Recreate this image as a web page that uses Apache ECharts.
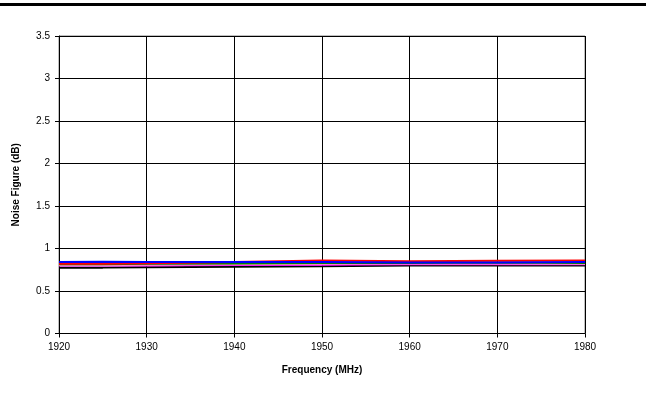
<!DOCTYPE html>
<html><head><meta charset="utf-8">
<script src="https://cdn.jsdelivr.net/npm/echarts@6/dist/echarts.min.js"></script>
<style>html,body{margin:0;padding:0;background:#fff}#c{width:646px;height:405px}</style>
</head><body><div id="c"></div>
<script>
const freqs = [1920, 1925, 1930, 1940, 1950, 1960, 1970, 1980];
const blueNF    = [0.840, 0.845, 0.840, 0.840, 0.840, 0.835, 0.835, 0.840];
const redNF     = [0.820, 0.820, 0.825, 0.840, 0.860, 0.850, 0.855, 0.860];
const greenNF   = [0.815, 0.815, 0.820, 0.825, 0.830, 0.830, 0.835, 0.830];
const pinkNF    = [0.805, 0.805, 0.810, 0.815, 0.820, 0.825, 0.825, 0.820];
const magentaNF = [0.800, 0.800, 0.800, 0.805, 0.810, 0.815, 0.815, 0.815];
const blackNF   = [0.775, 0.775, 0.780, 0.785, 0.790, 0.800, 0.800, 0.800];
const xTicks = [1920, 1930, 1940, 1950, 1960, 1970, 1980];
const yTicks = [0, 0.5, 1, 1.5, 2, 2.5, 3, 3.5];

const font = 'Liberation Sans, Arial, sans-serif';
function ser(vals, color){
  return {type:'line', data: freqs.map((f,i)=>[f, vals[i]]), showSymbol:false,
    lineStyle:{color:color, width:2}, itemStyle:{color:color}, animation:false};
}
const chart = echarts.init(document.getElementById('c'), null, {renderer:'canvas'});
chart.setOption({
  animation:false,
  grid:{left:59, right:61, top:36, bottom:71.5, show:true, borderColor:'#808080', borderWidth:1},
  graphic:[{type:'rect', shape:{x:0, y:3, width:646, height:3}, style:{fill:'#000'}}],
  xAxis:{type:'value', min:1920, max:1980, interval:10,
    name:'Frequency (MHz)', nameLocation:'middle', nameGap:32,
    nameTextStyle:{fontFamily:font, fontSize:10, fontWeight:'bold', color:'#000'},
    axisLine:{show:true, lineStyle:{color:'#000'}},
    axisTick:{show:true, length:4, lineStyle:{color:'#000'}},
    axisLabel:{fontFamily:font, fontSize:10, color:'#000', margin:9,
      formatter:v=> xTicks.includes(v) ? String(v) : ''},
    splitLine:{show:true, lineStyle:{color:'#000', width:1}}},
  yAxis:{type:'value', min:0, max:3.5, interval:0.5,
    name:'Noise Figure (dB)', nameLocation:'middle', nameGap:38, nameRotate:90,
    nameTextStyle:{fontFamily:font, fontSize:10, fontWeight:'bold', color:'#000'},
    axisLine:{show:true, lineStyle:{color:'#000'}},
    axisTick:{show:true, length:4, lineStyle:{color:'#000'}},
    axisLabel:{fontFamily:font, fontSize:10, color:'#000', margin:9,
      formatter:v=> yTicks.includes(v) ? String(v) : ''},
    splitLine:{show:true, lineStyle:{color:'#000', width:1}}},
  series:[
    ser(blackNF,'#000000'),
    ser(magentaNF,'#ff00ff'),
    ser(pinkNF,'#ff99cc'),
    ser(greenNF,'#008000'),
    ser(redNF,'#ff0000'),
    ser(blueNF,'#0000ff')
  ]
});
</script></body></html>
